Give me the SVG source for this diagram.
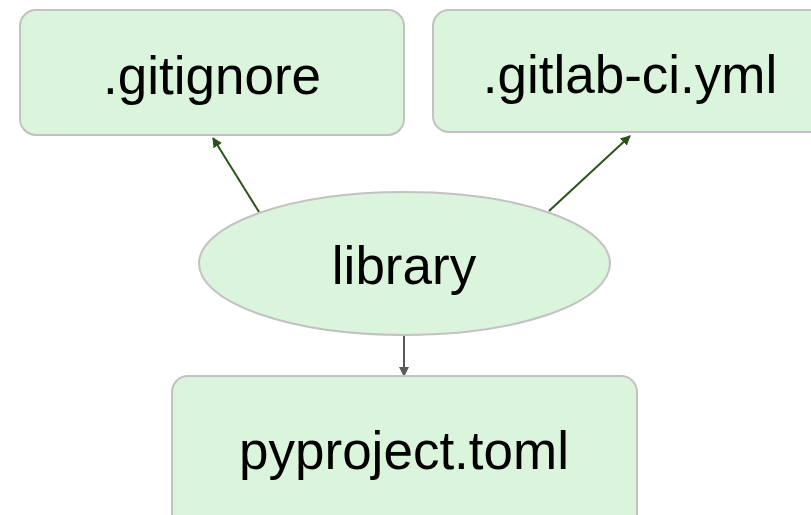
<svg xmlns="http://www.w3.org/2000/svg" width="811" height="515" viewBox="0 0 811 515">
<style>
.node{fill:#daf5dc;stroke:#c2c2c2;stroke-width:2}
.lbl{font-family:"Liberation Sans",Arial,sans-serif;font-size:53px;fill:#000;text-anchor:middle}
.e1{stroke:#2b5318;stroke-width:2;fill:none}
.e2{stroke:#5a5a5a;stroke-width:2;fill:none}
</style>
<defs>
<marker id="ag" viewBox="0 0 10 10" refX="9" refY="5" markerWidth="5" markerHeight="5" orient="auto"><path d="M0,0 L10,5 L0,10 z" fill="#2b5318"/></marker>
<marker id="ay" viewBox="0 0 10 10" refX="9" refY="5" markerWidth="5" markerHeight="5" orient="auto"><path d="M0,0 L10,5 L0,10 z" fill="#5a5a5a"/></marker>
</defs>
<rect width="811" height="515" fill="#fff"/>
<g id="connectors">
<line class="e1" x1="259" y1="212" x2="213" y2="138" marker-end="url(#ag)"/>
<line class="e1" x1="549" y1="211" x2="630" y2="136" marker-end="url(#ag)"/>
<line class="e2" x1="404" y1="336" x2="404" y2="376" marker-end="url(#ay)"/>
</g>
<g id="gitignore">
<rect class="node" x="20" y="10" width="384" height="125" rx="16"/>
<text class="lbl" x="212" y="94">.gitignore</text>
</g>
<g id="gitlab-ci">
<rect class="node" x="433" y="10" width="400" height="122" rx="16"/>
<text class="lbl" x="630" y="93">.gitlab-ci.yml</text>
</g>
<g id="library">
<ellipse class="node" cx="404.5" cy="263.5" rx="205.5" ry="71.5"/>
<text class="lbl" x="404" y="284">library</text>
</g>
<g id="pyproject">
<rect class="node" x="172" y="376" width="465" height="160" rx="16"/>
<text class="lbl" x="404" y="469">pyproject.toml</text>
</g>
</svg>
